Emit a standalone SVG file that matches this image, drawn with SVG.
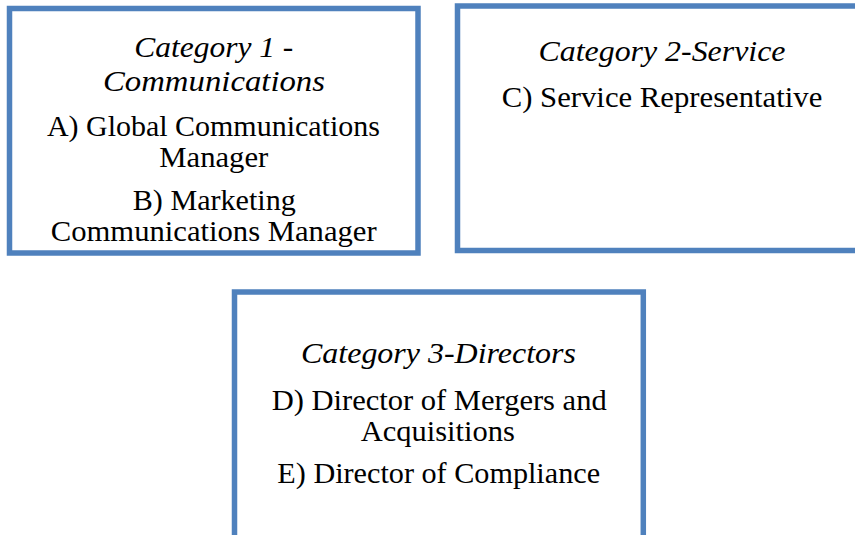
<svg xmlns="http://www.w3.org/2000/svg" width="855" height="535" viewBox="0 0 855 535">
  <style>
    .box { fill: #ffffff; stroke: #4f81bd; stroke-width: 5.5; }
    .t { font-family: "Liberation Serif", "Times New Roman", serif; font-size: 30px; fill: #000000; text-anchor: middle; }
    .h { font-style: italic; }
  </style>
  <rect x="0" y="0" width="855" height="535" fill="#ffffff"/>

  <g id="category-1">
    <rect class="box" x="9.5" y="8.5" width="408.5" height="244.5"/>
    <text class="t h" x="213.8" y="57.3" textLength="159" lengthAdjust="spacingAndGlyphs">Category 1 -</text>
    <text class="t h" x="214" y="90.7" textLength="222" lengthAdjust="spacingAndGlyphs">Communications</text>
    <text class="t" x="213.4" y="136" textLength="333" lengthAdjust="spacingAndGlyphs">A) Global Communications</text>
    <text class="t" x="213.8" y="166.7" textLength="109" lengthAdjust="spacingAndGlyphs">Manager</text>
    <text class="t" x="214.3" y="210" textLength="163" lengthAdjust="spacingAndGlyphs">B) Marketing</text>
    <text class="t" x="213.7" y="240.7" textLength="326" lengthAdjust="spacingAndGlyphs">Communications Manager</text>
  </g>

  <g id="category-2">
    <rect class="box" x="457.5" y="6" width="409" height="244.5"/>
    <text class="t h" x="662" y="61" textLength="247" lengthAdjust="spacingAndGlyphs">Category 2-Service</text>
    <text class="t" x="662" y="106.7" textLength="320.6" lengthAdjust="spacingAndGlyphs">C) Service Representative</text>
  </g>

  <g id="category-3">
    <rect class="box" x="234.5" y="292" width="408.8" height="262"/>
    <text class="t h" x="438.5" y="363.3" textLength="275" lengthAdjust="spacingAndGlyphs">Category 3-Directors</text>
    <text class="t" x="439.2" y="410" textLength="335" lengthAdjust="spacingAndGlyphs">D) Director of Mergers and</text>
    <text class="t" x="437.8" y="441" textLength="154" lengthAdjust="spacingAndGlyphs">Acquisitions</text>
    <text class="t" x="438.7" y="483.3" textLength="322.7" lengthAdjust="spacingAndGlyphs">E) Director of Compliance</text>
  </g>

  <g id="connectors"/>
</svg>
